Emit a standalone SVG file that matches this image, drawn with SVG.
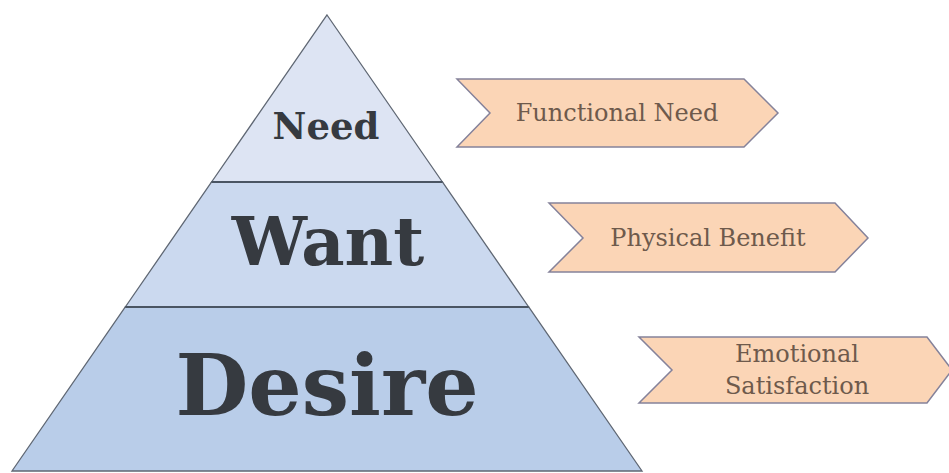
<svg xmlns="http://www.w3.org/2000/svg" width="949" height="473" viewBox="0 0 949 473">
<style>
.tier{stroke:#5f6773;stroke-width:1.3}
.bar{stroke:#4a5563;stroke-width:2}
.big{font-family:"DejaVu Serif","Liberation Serif",serif;font-weight:bold;fill:#363a40;text-anchor:middle}
.chev{fill:#fbd5b6;stroke:#85829a;stroke-width:1.5}
.lab{font-family:"DejaVu Serif","Liberation Serif",serif;fill:#6e5a4c;text-anchor:middle;font-size:24px}
</style>
<rect width="949" height="473" fill="#ffffff"/>
<g id="need">
<polygon class="tier" fill="#dde4f3" points="327,15 442.4,182 211.6,182"/>
<text class="big" x="326" y="139" font-size="37">Need</text>
</g>
<g id="want">
<polygon class="tier" fill="#cbd9ef" points="211.6,182 442.4,182 528.7,307 125.3,307"/>
<text class="big" x="328" y="265" font-size="67">Want</text>
</g>
<g id="desire">
<polygon class="tier" fill="#b9cde9" points="125.3,307 528.7,307 642,471 12,471"/>
<text class="big" x="327" y="415" font-size="84">Desire</text>
</g>
<g id="dividers">
<line class="bar" x1="211.6" y1="182" x2="442.4" y2="182"/>
<line class="bar" x1="125.3" y1="307" x2="528.7" y2="307"/>
</g>
<g id="functional-need">
<polygon class="chev" points="457,79 744,79 778,113 744,147 457,147 490,113"/>
<text class="lab" x="617" y="121">Functional Need</text>
</g>
<g id="physical-benefit">
<polygon class="chev" points="549,203 835,203 868,238 835,272 549,272 583,238"/>
<text class="lab" x="708" y="246">Physical Benefit</text>
</g>
<g id="emotional-satisfaction">
<polygon class="chev" points="639,337 927,337 952,370 927,403 639,403 672,370"/>
<text class="lab" x="797" y="362">Emotional</text>
<text class="lab" x="797" y="394">Satisfaction</text>
</g>
</svg>
